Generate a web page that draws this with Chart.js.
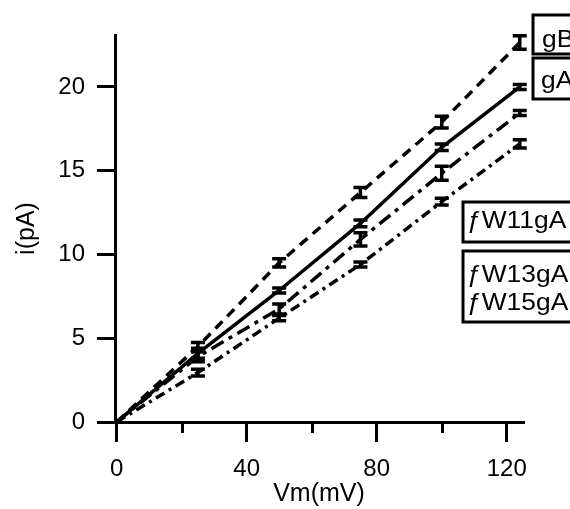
<!DOCTYPE html>
<html>
<head>
<meta charset="utf-8">
<script src="https://cdn.jsdelivr.net/npm/chart.js@4.4.0/dist/chart.umd.min.js"></script>
<style>
  html, body { margin: 0; padding: 0; background: #fff; }
  #c { display: block; }
</style>
</head>
<body>
<canvas id="c" width="570" height="509"></canvas>
<script>
// values
const voltages = [0, 25, 50, 75, 100, 124]
const gB = [0, 4.5, 9.5, 13.7, 17.9, 22.65]
const gBErr = [0, 0.25, 0.25, 0.3, 0.35, 0.4]
const gA = [0, 4.1, 7.85, 11.85, 16.4, 20.0]
const gAErr = [0, 0.3, 0.15, 0.2, 0.2, 0.15]
const fW11 = [0, 3.9, 6.75, 10.9, 14.85, 18.45]
const fW11Err = [0, 0.3, 0.3, 0.4, 0.42, 0.15]
const fW13 = [0, 2.95, 6.2, 9.4, 13.15, 16.6]
const fW13Err = [0, 0.2, 0.15, 0.15, 0.2, 0.25]

const xTicks = [0, 20, 40, 60, 80, 100, 120]
const xLabels = [0, 40, 80, 120]
const yTicks = [0, 5, 10, 15, 20]

Chart.defaults.font.family = '"Liberation Sans", Arial, sans-serif'
Chart.defaults.color = '#000'

function points(ys) {
  return voltages.map((v, i) => ({ x: v, y: ys[i] }))
}

function series(label, ys, errs, dash) {
  return {
    label: label,
    data: points(ys),
    errors: errs,
    borderColor: '#000',
    borderWidth: 3.5,
    borderDash: dash,
    pointRadius: 0,
    tension: 0,
    fill: false,
  }
}

// I-beam error bars
const errorBars = {
  id: 'errorBars',
  afterDatasetsDraw(chart) {
    const { ctx, scales: { x, y } } = chart
    ctx.save()
    ctx.setLineDash([])
    ctx.strokeStyle = '#000'
    ctx.lineWidth = 3.5
    chart.data.datasets.forEach((ds) => {
      ds.data.forEach((p, i) => {
        const e = ds.errors[i]
        if (!e) return
        const px = x.getPixelForValue(p.x)
        const top = y.getPixelForValue(p.y + e)
        const bot = y.getPixelForValue(p.y - e)
        ctx.beginPath()
        ctx.moveTo(px, top); ctx.lineTo(px, bot)
        ctx.moveTo(px - 7, top); ctx.lineTo(px + 7, top)
        ctx.moveTo(px - 7, bot); ctx.lineTo(px + 7, bot)
        ctx.stroke()
      })
    })
    ctx.restore()
  }
}

// short ticks at 20, 60, 100
const minorTicks = {
  id: 'minorTicks',
  afterDraw(chart) {
    const { ctx, scales: { x } } = chart
    ctx.save()
    ctx.strokeStyle = '#000'
    ctx.lineWidth = 3
    xTicks.filter(v => !xLabels.includes(v)).forEach(v => {
      const px = Math.round(x.getPixelForValue(v)) + 0.5
      ctx.beginPath()
      ctx.moveTo(px, x.top)
      ctx.lineTo(px, x.top + 11)
      ctx.stroke()
    })
    ctx.restore()
  }
}

// boxed labels at the right
const labelBoxes = {
  id: 'labelBoxes',
  afterDraw(chart) {
    const ctx = chart.ctx
    const boxes = [
      { r: [533, 15, 50, 39], lines: [['gB', 542, 47]] },
      { r: [533, 58, 50, 41], lines: [['gA', 541, 88]] },
      { r: [463, 202, 115, 40], lines: [['ƒW11gA', 467, 228]] },
      { r: [463, 251, 115, 71], lines: [['ƒW13gA', 467, 282], ['ƒW15gA', 467, 310]] },
    ]
    ctx.save()
    ctx.strokeStyle = '#000'
    ctx.fillStyle = '#000'
    ctx.lineWidth = 3
    ctx.font = '24px "Liberation Sans", Arial, sans-serif'
    ctx.textBaseline = 'alphabetic'
    boxes.forEach(b => {
      ctx.strokeRect(b.r[0], b.r[1], b.r[2], b.r[3])
      b.lines.forEach(([t, tx, ty]) => {
        ctx.save()
        ctx.translate(tx, ty)
        ctx.scale(1.1, 1)
        ctx.fillText(t, 0, 0)
        ctx.restore()
      })
    })
    ctx.restore()
  }
}

new Chart(document.getElementById('c'), {
  type: 'line',
  data: {
    datasets: [
      series('gB', gB, gBErr, [10, 7]),
      series('gA', gA, gAErr, []),
      series('fW11gA', fW11, fW11Err, [14, 6, 4, 6]),
      series('fW13gA fW15gA', fW13, fW13Err, [10, 5, 3, 5]),
    ]
  },
  options: {
    responsive: false,
    animation: false,
    devicePixelRatio: 1,
    layout: { padding: { top: 35, right: 47, left: 0, bottom: 0 } },
    plugins: {
      legend: { display: false },
      tooltip: { enabled: false },
    },
    scales: {
      x: {
        type: 'linear',
        min: -0.5,
        max: 125,
        afterBuildTicks: (s) => { s.ticks = xTicks.map(v => ({ value: v })) },
        afterFit: (s) => { s.height = 87 },
        ticks: {
          autoSkip: false,
          maxRotation: 0,
          padding: 13,
          font: { size: 24 },
          callback: (v) => xLabels.includes(v) ? String(v) : '',
        },
        grid: {
          drawOnChartArea: false,
          tickLength: 20,
          lineWidth: 3,
          color: (c) => (c.tick && xLabels.includes(c.tick.value)) ? '#000' : 'rgba(0,0,0,0)',
        },
        border: { color: '#000', width: 3 },
        title: {
          display: true,
          text: 'Vm(mV)',
          font: { size: 25 },
          padding: { top: 0, bottom: 0 },
        },
      },
      y: {
        type: 'linear',
        min: 0,
        max: 23.1,
        afterBuildTicks: (s) => { s.ticks = yTicks.map(v => ({ value: v })) },
        afterFit: (s) => { s.width = 115 },
        ticks: {
          padding: 12,
          font: { size: 24 },
        },
        grid: {
          drawOnChartArea: false,
          tickLength: 18,
          lineWidth: 3,
          color: '#000',
        },
        border: { color: '#000', width: 3 },
        title: {
          display: true,
          text: 'i(pA)',
          font: { size: 25 },
          padding: { top: 12, bottom: 0 },
        },
      },
    },
  },
  plugins: [errorBars, minorTicks, labelBoxes],
})
</script>
</body>
</html>
